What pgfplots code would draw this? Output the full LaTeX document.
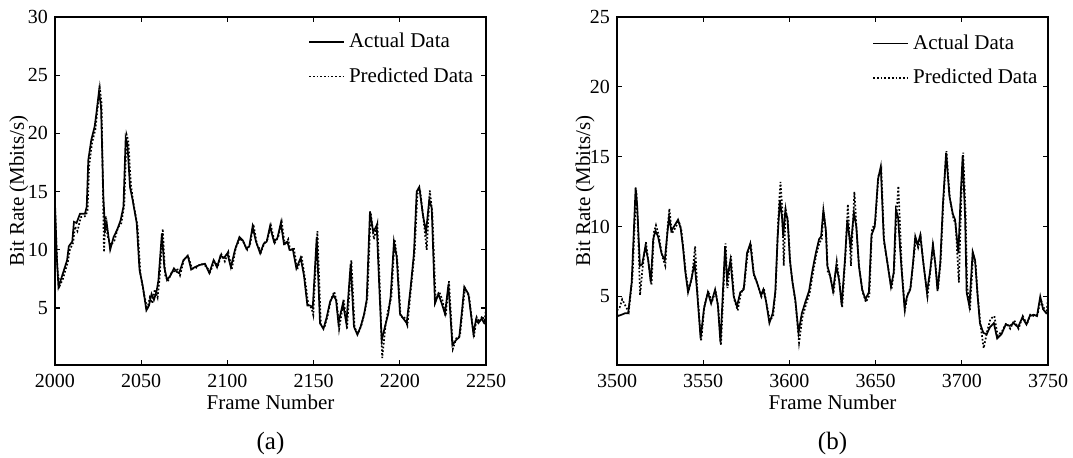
\documentclass[border=0pt]{standalone}
\usepackage{pgfplots}
\pgfplotsset{compat=1.18}
\usepackage{fontspec}
\setmainfont{Liberation Serif}
\begin{document}
\begin{tikzpicture}
\path[use as bounding box] (0,0) rectangle (536.5pt,228.5pt);
\pgfplotsset{
  every axis/.append style={
    scale only axis,
    width=215.5pt, height=174pt,
    anchor=south west,
    ymin=0.1,
    tick align=inside,
    major tick length=2.5pt,
    xtick pos=both, ytick pos=both,
    axis line style={line width=0.7pt},
    every tick/.style={line width=0.6pt,black},
    tick label style={font=\fontsize{10}{12}\selectfont},
    label style={font=\fontsize{10.5}{12}\selectfont},
    /pgf/number format/assume math mode=true,
    /pgf/number format/1000 sep={},
    scaled ticks=false,
    xticklabel style={yshift=-1pt},
    xlabel={Frame Number},
    ylabel={Bit Rate (Mbits/s)},
    xlabel style={at={(axis description cs:0.5,-0.106)},anchor=center},
    legend style={draw=none, fill=none, font=\fontsize{10.5}{12}\selectfont, row sep=4.5pt, legend cell align=left},
    legend image code/.code={\draw[#1] (0cm,0cm) -- (17.5pt,0cm);},
  },
  act/.style={black, line width=0.85pt},
  pred/.style={black, line width=0.85pt, densely dotted},
}
\begin{axis}[name=ax1, at={(27.5pt,46pt)},
  xmin=2000, xmax=2250, ymax=30,
  xtick={2000,2050,...,2250}, ytick={5,10,...,30},
  ylabel style={at={(axis description cs:-0.084,0.5)},anchor=center},
  legend style={at={(axis description cs:0.573,0.978)},anchor=north west}]
\addplot[act] coordinates {(2000,14.0)(2001,9.5)(2002,6.8)(2004,7.7)(2007,9.1)(2008,10.3)(2010,10.7)(2011,12.4)(2012.5,12.3)(2014.5,13.1)(2017.4,13.1)(2018.4,13.7)(2019.3,17.7)(2021,19.4)(2023,20.6)(2024,21.7)(2025.5,23.6)(2026.7,22.3)(2028,14.8)(2029,11.7)(2030,12.3)(2032,10.0)(2034,11.1)(2036,11.7)(2038,12.5)(2039.7,13.7)(2041,19.6)(2042,19.1)(2043.5,15.4)(2045,14.3)(2047.4,12.3)(2049,8.3)(2051,6.8)(2053,4.8)(2054.5,5.2)(2056,6.2)(2057.4,5.7)(2059,6.5)(2060,7.4)(2062,11.4)(2063.4,8.5)(2065,7.4)(2067,7.8)(2069,8.4)(2070.6,8.1)(2072,8.0)(2074.5,9.1)(2077,9.5)(2079,8.3)(2081,8.5)(2084,8.7)(2087,8.8)(2089.5,8.0)(2092,9.1)(2094,8.5)(2096,9.5)(2098,9.3)(2100,9.7)(2102,8.5)(2104.4,10.0)(2107,11.1)(2109,10.8)(2111,10.1)(2112.7,10.3)(2114.6,12.0)(2116.6,10.7)(2119,9.7)(2121,10.5)(2122.8,10.7)(2124.7,12.0)(2127,10.7)(2129,11.0)(2131,12.3)(2132.8,10.5)(2134.8,10.7)(2136,10.0)(2138,10.0)(2140,8.4)(2142.5,9.3)(2144.4,7.8)(2146.4,5.2)(2148.3,5.2)(2149.5,5.0)(2151.8,11.1)(2153.7,3.7)(2155.7,3.2)(2157.6,4.2)(2159.5,5.5)(2161.5,6.1)(2163,5.7)(2164.4,3.7)(2167,5.4)(2169,3.7)(2171.5,8.8)(2173.4,3.4)(2175.4,2.7)(2177.3,3.4)(2179.2,4.4)(2180.8,5.7)(2182.7,13.3)(2184.6,11.5)(2186.6,12.1)(2188.1,6.8)(2189.5,2.2)(2191.4,3.4)(2193.3,4.5)(2194.7,6.0)(2196.6,10.7)(2198.2,9.4)(2200.1,4.5)(2202,4.1)(2204,3.7)(2206.3,6.8)(2208.2,9.7)(2209.8,15.0)(2211.3,15.4)(2213.3,13.1)(2215.2,11.5)(2217.1,14.3)(2218.5,13.6)(2220.4,5.4)(2222.4,6.2)(2224.3,5.4)(2226.2,4.5)(2228.2,7.0)(2230.5,1.8)(2232.4,2.2)(2234.5,2.5)(2236.1,4.8)(2237.4,6.8)(2239.8,6.2)(2242.7,2.8)(2244.2,4.0)(2245.6,3.7)(2247.5,4.1)(2248.9,3.7)(2250,3.6)};
\addlegendentry{Actual Data}
\addplot[pred] coordinates {(2000,13.6)(2001.4,8.4)(2002.7,6.9)(2004.6,7.5)(2007.5,9.0)(2008.6,10.0)(2010.5,10.6)(2011.6,12.0)(2013,11.6)(2015,12.8)(2017.8,12.9)(2018.9,13.4)(2019.8,17.2)(2021.5,19.2)(2023.5,20.4)(2024.5,21.9)(2026,23.9)(2027,22.6)(2028.4,9.8)(2029.4,12.9)(2030.4,11.2)(2032.4,10.4)(2034.5,10.8)(2036.5,11.9)(2038.5,12.3)(2040.2,13.9)(2041.5,19.9)(2042.5,19.4)(2044,15.6)(2045.5,14.0)(2047.9,12.0)(2049.5,8.0)(2051.5,6.3)(2053.5,4.9)(2055,5.9)(2056.5,5.4)(2057.9,6.6)(2059.5,5.9)(2060.5,7.3)(2062.5,11.8)(2063.9,7.8)(2065.5,7.3)(2067.5,8.0)(2069.5,8.2)(2071.1,8.3)(2072.5,7.8)(2075,9.3)(2077.5,9.3)(2079.5,8.4)(2081.5,8.4)(2084.5,8.8)(2087.5,8.6)(2090,8.1)(2092.5,9.0)(2094.5,8.6)(2096.5,9.6)(2098.5,9.0)(2100.5,9.8)(2102.5,8.3)(2104.9,10.2)(2107.5,11.0)(2109.5,10.6)(2111.5,10.0)(2113.2,10.5)(2115.1,12.2)(2117.1,10.5)(2119.5,9.8)(2121.5,10.6)(2123.3,10.9)(2125.2,12.1)(2127.5,10.6)(2129.5,11.1)(2131.5,12.4)(2133.3,10.4)(2135.3,10.9)(2136.5,9.9)(2138.5,10.2)(2140.5,8.3)(2143,9.5)(2144.9,7.6)(2146.9,5.3)(2148.8,5.0)(2149.8,4.4)(2152.2,11.6)(2154.2,3.5)(2156.2,3.3)(2158.1,4.3)(2160,5.7)(2162,6.4)(2163.5,5.5)(2164.8,3.2)(2167.5,5.7)(2169.4,3.2)(2171.9,9.1)(2173.8,3.3)(2175.8,2.8)(2177.7,3.5)(2179.6,4.6)(2181.2,5.9)(2183.1,13.2)(2185,10.9)(2187,12.2)(2188.5,6.5)(2189.8,0.7)(2191.8,3.6)(2193.3,4.9)(2195.1,5.9)(2197,10.9)(2198.6,9.0)(2200.5,4.2)(2202.4,4.3)(2204.4,3.5)(2206.7,7.0)(2208.6,9.8)(2210.2,14.8)(2211.7,15.2)(2213.7,12.7)(2215.6,10.0)(2217.4,15.1)(2218.9,13.1)(2220.8,5.6)(2222.8,6.4)(2224.7,5.7)(2226.6,4.3)(2228.5,7.3)(2230.8,1.5)(2232.8,2.4)(2234.9,2.6)(2236.5,5.0)(2237.8,6.7)(2240.2,6.0)(2243,2.5)(2244.6,4.2)(2246,3.8)(2247.9,4.3)(2249.2,3.9)(2250,4.9)};
\addlegendentry{Predicted Data}
\end{axis}
\begin{axis}[name=ax2, at={(308.5pt,46pt)},
  xmin=3500, xmax=3750, ymax=25,
  xtick={3500,3550,...,3750}, ytick={5,10,...,25},
  ylabel style={at={(axis description cs:-0.074,0.5)},anchor=center},
  legend style={at={(axis description cs:0.578,0.973)},anchor=north west}]
\addplot[act] coordinates {(3500,3.8)(3500.4,3.6)(3502.7,3.7)(3504.6,3.8)(3506.5,3.8)(3508.5,6.0)(3509.8,9.8)(3510.8,12.8)(3511.7,11.5)(3513.3,7.2)(3514.6,7.3)(3516.5,8.6)(3518.1,7.6)(3519.6,6.0)(3521,9.1)(3522.3,9.7)(3523.8,9.3)(3525.8,8.1)(3527.7,7.6)(3529.2,9.5)(3530.2,10.7)(3531.5,9.7)(3533.5,10.1)(3535.4,10.5)(3536.9,9.9)(3538.3,8.5)(3539.6,6.8)(3541.2,5.3)(3543.1,6.2)(3545,7.4)(3546.5,5.3)(3548.5,2.0)(3550.4,4.1)(3552.7,5.3)(3554.6,4.5)(3556.9,5.5)(3558.5,4.4)(3560,1.7)(3562.7,8.6)(3563.8,6.2)(3565.8,7.6)(3567.7,5.0)(3569.6,4.3)(3571.5,5.3)(3573.5,5.5)(3575.4,8.1)(3577.3,8.8)(3579.2,6.7)(3581.2,6.0)(3583.5,5.1)(3584.9,5.5)(3586.4,4.7)(3588.4,3.1)(3590.3,3.8)(3591.8,5.3)(3593.2,9.3)(3594.5,11.9)(3595.7,10.7)(3596.4,9.3)(3597.6,11.1)(3598.9,10.6)(3600.3,7.6)(3601.8,6.0)(3603.4,4.8)(3605.3,2.4)(3607.2,3.8)(3609.5,4.7)(3611.4,5.4)(3613.4,6.9)(3615.3,8.1)(3617.2,9.1)(3618.4,9.3)(3619.7,11.2)(3621.1,9.8)(3622,7.2)(3623.4,6.6)(3625.3,5.4)(3627.2,7.2)(3628.8,6.2)(3630.3,4.4)(3632.2,7.6)(3633.6,10.5)(3635.5,8.5)(3637.4,11.0)(3638.8,10.0)(3640.3,7.2)(3642.2,5.5)(3644.1,4.8)(3646.1,5.3)(3647.6,9.4)(3649.5,10.0)(3651.4,13.4)(3653,14.3)(3654.7,9.2)(3656.6,7.6)(3658.9,5.7)(3660.5,6.7)(3661.8,11.2)(3663,10.7)(3664.9,7.2)(3666.8,4.2)(3668.2,5.0)(3670.1,5.5)(3671.7,7.4)(3673,9.3)(3674.4,8.7)(3675.9,9.4)(3677.5,7.6)(3679.8,5.3)(3681.7,6.9)(3683.2,8.7)(3684.6,7.4)(3685.9,5.4)(3687.5,7.4)(3689,11.5)(3690.9,15.3)(3692.8,12.2)(3694.8,10.9)(3696.1,10.5)(3698,8.1)(3699.4,12.4)(3700.5,15.1)(3701.9,10.7)(3702.8,5.3)(3704.4,4.3)(3706.3,8.2)(3707.7,7.6)(3709,5.3)(3710.5,3.1)(3712.5,2.4)(3714.4,2.3)(3716.3,2.8)(3718.6,3.1)(3720.5,2.0)(3723,2.3)(3725.5,3.0)(3727.8,2.9)(3730.1,3.1)(3732.6,2.8)(3735.1,3.5)(3737.5,3.0)(3739.4,3.6)(3741.7,3.7)(3743.6,3.6)(3745.5,5.0)(3747.1,4.1)(3749,3.8)(3750,3.9)};
\addlegendentry{Actual Data}
\addplot[pred] coordinates {(3500,4.0)(3501.5,4.2)(3503,4.8)(3505,4.3)(3506.8,3.9)(3509,6.4)(3510.3,10.3)(3511.2,12.6)(3512,10.5)(3513.4,5.1)(3514.8,7.0)(3516.8,8.9)(3518.4,7.3)(3520,5.8)(3521.4,9.6)(3522.6,10.1)(3524.2,9.4)(3526.2,7.9)(3528,7.2)(3529.4,10.0)(3530.4,11.3)(3531.8,9.5)(3533.8,9.9)(3535.8,10.4)(3537.3,9.8)(3538.6,8.3)(3540,6.6)(3541.6,5.4)(3543.5,6.4)(3545.3,8.6)(3546.8,5.0)(3548.8,1.8)(3550.8,4.4)(3553,5.4)(3555,4.6)(3557.2,5.4)(3558.8,4.2)(3560.3,1.5)(3563,8.8)(3564.1,5.6)(3566.1,7.9)(3568,4.8)(3570,4.0)(3571.8,5.2)(3573.8,5.7)(3575.7,8.0)(3577.6,8.8)(3579.5,6.5)(3581.5,5.9)(3583.8,5.0)(3585.2,5.6)(3586.7,4.5)(3588.7,3.3)(3590.6,3.6)(3592.1,5.6)(3593.5,10.5)(3594.8,13.2)(3596,11.0)(3596.7,7.2)(3597.9,11.2)(3599.2,10.3)(3600.6,7.2)(3602.1,5.8)(3603.7,4.4)(3605.6,1.7)(3607.5,3.5)(3609.8,4.5)(3611.7,5.2)(3613.7,6.7)(3615.6,8.0)(3617.5,8.9)(3618.7,9.0)(3619.9,11.0)(3621.4,9.4)(3622.3,6.7)(3623.7,6.5)(3625.6,5.2)(3627.5,7.5)(3629.1,6.0)(3630.6,4.2)(3632.5,7.9)(3633.9,11.6)(3635.7,7.2)(3637.7,12.5)(3639.1,9.6)(3640.6,7.0)(3642.5,5.3)(3644.4,4.6)(3646.4,5.1)(3647.9,9.8)(3649.8,10.3)(3651.6,13.6)(3653.3,14.1)(3655,8.8)(3656.9,7.4)(3659.2,5.5)(3660.8,6.9)(3661.9,10.5)(3663.2,12.9)(3665.2,7.0)(3667,4.0)(3668.5,5.1)(3670.4,5.7)(3672,7.6)(3673.3,9.1)(3674.7,8.5)(3676.2,9.2)(3677.8,7.3)(3680.1,5.0)(3682,7.1)(3683.5,8.5)(3684.9,7.0)(3686.2,5.5)(3687.8,7.6)(3689.3,11.8)(3691.1,15.4)(3693.1,12.0)(3695.1,10.6)(3696.4,10.2)(3698.3,6.0)(3699.7,12.0)(3700.8,15.3)(3702.2,11.0)(3703.1,5.8)(3704.7,4.0)(3706.6,8.0)(3708,7.3)(3709.3,5.0)(3710.8,3.0)(3712.7,1.3)(3714.7,2.5)(3716.6,3.4)(3718.9,3.6)(3720.8,2.2)(3723.3,2.5)(3725.8,3.1)(3728.1,2.7)(3730.4,3.3)(3732.9,2.7)(3735.4,3.6)(3737.8,3.0)(3739.7,3.7)(3742,3.6)(3743.9,3.7)(3745.8,4.8)(3747.4,4.2)(3749.3,4.0)(3750,5.0)};
\addlegendentry{Predicted Data}
\end{axis}
\node[font=\fontsize{12.5}{14}\selectfont] at ([yshift=-39pt]ax1.south) {(a)};
\node[font=\fontsize{12.5}{14}\selectfont] at ([yshift=-39pt]ax2.south) {(b)};
\end{tikzpicture}
\end{document}
